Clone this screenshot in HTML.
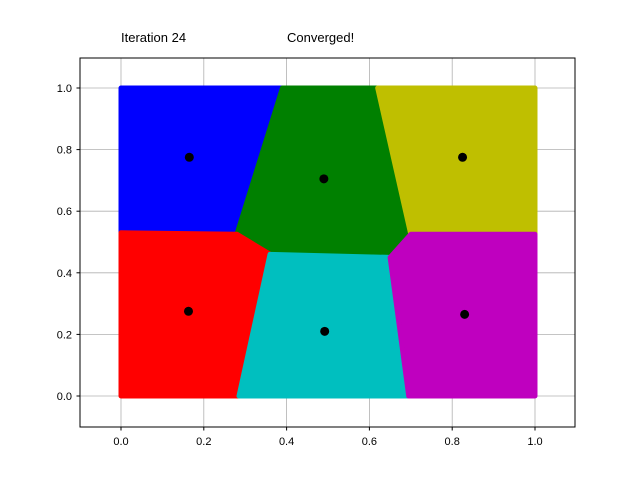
<!DOCTYPE html>
<html><head><meta charset="utf-8"><style>
body{margin:0;background:#fff;}
svg{display:block;font-family:"Liberation Sans","DejaVu Sans",sans-serif;}
</style></head><body>
<svg width="640" height="480" viewBox="0 0 640 480">
<rect x="0" y="0" width="640" height="480" fill="#fff"/>
<g id="grid"></g>
<g id="regions"></g>
<g id="cents"></g>
<rect x="80" y="58" width="495" height="369" fill="none" stroke="#000" stroke-width="1"/>
<g id="ticks"></g>
<text x="121" y="42" font-size="13">Iteration 24</text>
<text x="287" y="42" font-size="13">Converged!</text>
</svg>
<script>
const xTicks=[0,0.2,0.4,0.6,0.8,1.0];
const yTicks=[0,0.2,0.4,0.6,0.8,1.0];
const clusterNames=['blue','green','yellow','red','cyan','magenta'];
const clusterColors=['#0000ff','#008000','#bfbf00','#ff0000','#00bfbf','#bf00bf'];
const regionBlue=[[0,0.53],[0,1],[0.39,1],[0.28,0.525]];
const regionGreen=[[0.39,1],[0.62,1],[0.70,0.525],[0.65,0.45],[0.36,0.46],[0.28,0.525]];
const regionYellow=[[0.62,1],[1,1],[1,0.525],[0.70,0.525]];
const regionRed=[[0,0],[0,0.53],[0.28,0.525],[0.36,0.46],[0.285,0]];
const regionCyan=[[0.285,0],[0.36,0.46],[0.65,0.45],[0.695,0]];
const regionMagenta=[[0.695,0],[1,0],[1,0.525],[0.70,0.525],[0.65,0.45]];
const centX=[0.165,0.49,0.825,0.163,0.492,0.83];
const centY=[0.775,0.705,0.775,0.275,0.21,0.265];
const X=v=>121+v*414, Y=v=>396-v*308;
const NS='http://www.w3.org/2000/svg';
function mk(t,a,p){const e=document.createElementNS(NS,t);for(const k in a)e.setAttribute(k,a[k]);p.appendChild(e);return e;}
const grid=document.getElementById('grid'),ticks=document.getElementById('ticks');
xTicks.forEach(v=>{
 const l=mk('line',{x1:X(v),x2:X(v),y1:58,y2:427,stroke:'#b0b0b0','stroke-width':0.8},grid);
 
 const t=mk('line',{x1:X(v),x2:X(v),y1:427,y2:430.5,stroke:'#000'},ticks);
 
 const tx=mk('text',{x:X(v),y:445,'font-size':11,'text-anchor':'middle'},ticks);tx.textContent=v.toFixed(1);
 
});
yTicks.forEach(v=>{
 const l=mk('line',{x1:80,x2:575,y1:Y(v),y2:Y(v),stroke:'#b0b0b0','stroke-width':0.8},grid);
 
 const t=mk('line',{x1:76.5,x2:80,y1:Y(v),y2:Y(v),stroke:'#000'},ticks);
 
 const tx=mk('text',{x:72,y:Y(v)+4,'font-size':11,'text-anchor':'end'},ticks);tx.textContent=v.toFixed(1);
 
});
const regions=[regionBlue,regionGreen,regionYellow,regionRed,regionCyan,regionMagenta];
const rg=document.getElementById('regions');
regions.forEach((r,i)=>{
 const p=mk('polygon',{points:r.map(q=>X(q[0])+','+Y(q[1])).join(' '),fill:clusterColors[i],stroke:clusterColors[i],'stroke-width':5,'stroke-linejoin':'round'},rg);
 
});
const cg=document.getElementById('cents');
centX.forEach((c,i)=>{
 const e=mk('circle',{cx:X(c),cy:Y(centY[i]),r:4.5,fill:'#000'},cg);
 
});
</script>
</body></html>
